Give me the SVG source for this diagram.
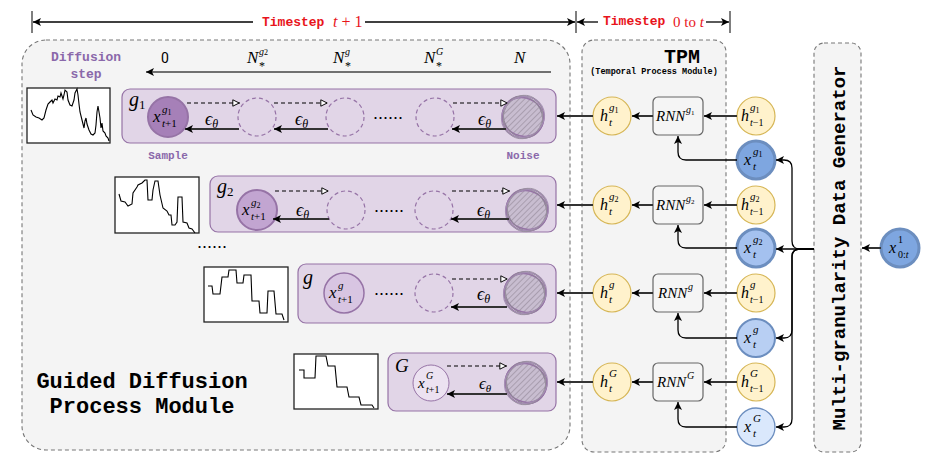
<svg xmlns="http://www.w3.org/2000/svg" width="938" height="476" viewBox="0 0 938 476">
<style>
.m{font-family:"Liberation Serif",serif;font-style:italic;fill:#000}
.u{font-family:"Liberation Serif",serif;font-style:normal}
.mono{font-family:"Liberation Mono","DejaVu Sans Mono",monospace;font-weight:bold}
.red{fill:#e8141b}
.pur{fill:#8a68aa}
.box{fill:#f4f4f4;stroke:#777;stroke-width:1.1;stroke-dasharray:4 3}
.row{fill:#e1d5e7;stroke:#9673a6;stroke-width:1.2}
.dc{fill:none;stroke:#9673a6;stroke-width:1.2;stroke-dasharray:4 3}
.yel{fill:#fff2cc;stroke:#d6b656;stroke-width:1.2}
.rnn{fill:#f5f5f5;stroke:#666;stroke-width:1.2}
.ln{fill:none;stroke:#000;stroke-width:1.3}
.sl{fill:none;stroke:#333;stroke-width:2}
.dl{fill:none;stroke:#000;stroke-width:1.1;stroke-dasharray:4 3}
.plot{fill:#fff;stroke:#222;stroke-width:1.3}
.pl{fill:none;stroke:#000;stroke-width:1.1}
</style>
<defs>
<marker id="ah" viewBox="0 0 10 10" refX="10" refY="5" markerWidth="10" markerHeight="8" markerUnits="userSpaceOnUse" orient="auto"><path d="M0,0 L10,5 L0,10 L2.5,5 Z" fill="#000"/></marker>
<marker id="ao" viewBox="0 0 10 10" refX="10" refY="5" markerWidth="10" markerHeight="8" markerUnits="userSpaceOnUse" orient="auto"><path d="M1,1 L9,5 L1,9 Z" fill="#fff" stroke="#000" stroke-width="1.2"/></marker>
<pattern id="hatch" width="4" height="4" patternUnits="userSpaceOnUse" patternTransform="rotate(45)"><rect width="4" height="4" fill="#c8bdd0"/><line x1="0" y1="0" x2="0" y2="4" stroke="#837888" stroke-width="0.9"/></pattern>
<g id="noise">
<circle r="20" fill="url(#hatch)"/>
<ellipse rx="21" ry="19" transform="rotate(25)" fill="none" stroke="#9673a6" stroke-width="1.4"/>
<ellipse rx="19" ry="21.5" transform="rotate(-30)" fill="none" stroke="#8d8494" stroke-width="1"/>
<circle r="21" fill="none" stroke="#9673a6" stroke-width="1.2"/>
<ellipse rx="20" ry="22" transform="rotate(60)" fill="none" stroke="#a48fb3" stroke-width="1"/>
<ellipse rx="22" ry="19.5" transform="rotate(-70)" fill="none" stroke="#9a90a0" stroke-width="0.9"/>
</g>
</defs>

<!-- timestep header -->
<g id="timestep">
<line x1="32" y1="11" x2="32" y2="33" stroke="#555" stroke-width="1.5"/>
<line x1="576" y1="11" x2="576" y2="33" stroke="#555" stroke-width="1.5"/>
<line x1="730" y1="11" x2="730" y2="33" stroke="#555" stroke-width="1.5"/>
<line class="ln" x1="253" y1="22" x2="33" y2="22" marker-end="url(#ah)"/>
<line class="ln" x1="365" y1="22" x2="575" y2="22" marker-end="url(#ah)"/>
<line class="ln" x1="598" y1="22" x2="577" y2="22" marker-end="url(#ah)"/>
<line class="ln" x1="706" y1="22" x2="729" y2="22" marker-end="url(#ah)"/>
<text x="262" y="26" class="mono red" font-size="13">Timestep</text>
<text x="333" y="27" class="u red" font-size="16"><tspan font-style="italic">t</tspan> + 1</text>
<text x="603" y="25" class="mono red" font-size="13">Timestep</text>
<text x="673" y="27" class="u red" font-size="15">0 to <tspan font-style="italic">t</tspan></text>
</g>

<!-- Guided Diffusion Process Module -->
<g id="gdpm">
<rect class="box" x="22" y="40" width="548" height="410" rx="24"/>
<text x="86" y="61" class="mono pur" font-size="13" text-anchor="middle">Diffusion</text>
<text x="86" y="78" class="mono pur" font-size="13" text-anchor="middle">step</text>
<text x="165" y="63" font-family="Roboto,'Liberation Sans',sans-serif" font-size="14" text-anchor="middle">0</text>
<text x="247" y="63" class="m" font-size="17">N</text><text x="259" y="55" class="m" font-size="10">g<tspan class="u" font-size="8">2</tspan></text><text x="259" y="70" class="u" font-size="12">*</text>
<text x="333" y="63" class="m" font-size="17">N</text><text x="345" y="55" class="m" font-size="10">g</text><text x="345" y="70" class="u" font-size="12">*</text>
<text x="424" y="63" class="m" font-size="17">N</text><text x="436" y="55" class="m" font-size="10">G</text><text x="436" y="70" class="u" font-size="12">*</text>
<text x="514" y="63" class="m" font-size="17">N</text>
<line x1="551" y1="72" x2="146" y2="72" stroke="#444" stroke-width="1.6" marker-end="url(#ah)"/>
<text x="142" y="388" class="mono" font-size="22" text-anchor="middle">Guided Diffusion</text>
<text x="142" y="413" class="mono" font-size="22" text-anchor="middle">Process Module</text>
<text x="212" y="248" font-family="'Liberation Sans',sans-serif" font-size="18" text-anchor="middle">......</text>
</g>

<!-- plots -->
<g id="plot-g1">
<rect class="plot" x="27" y="88" width="83" height="55"/>
<polyline class="pl" points="31,110 33,115 36,117 39,118 42,120 44,118 46,110 48,104 50,102 52,100 53,103 55,99 57,100 58,96 60,97 61,93 63,99 64,95 65,90 67,92 68,100 70,105 72,106 74,100 75,93 77,89 78,95 79,104 80,112 82,120 84,128 85,121 86,118 87,124 89,130 91,134 93,135 95,133 96,125 97,112 98,106 99,112 100,118 101,128 102,123 103,131 105,133 106,136 108,138 109,141"/>
</g>
<g id="plot-g2">
<rect class="plot" x="115" y="177" width="84" height="56"/>
<polyline class="pl" points="119,194 121,201 125,202 128,206 132,204 133,193 137,187 138,185 142,183 145,180 147,180 148,200 152,200 153,190 155,181 158,181 160,195 163,208 167,211 169,215 171,215 172,225 175,225 177,222 178,197 182,197 183,222 187,223 189,228 192,229 195,233"/>
</g>
<g id="plot-g">
<rect class="plot" x="204" y="267" width="84" height="55"/>
<polyline class="pl" points="208,286 212,286 213,294 220,294 222,277 228,277 229,270 236,270 237,283 243,283 244,275 251,275 252,301 259,301 260,313 267,313 268,291 274,291 276,314 282,314 284,320"/>
</g>
<g id="plot-G">
<rect class="plot" x="294" y="354" width="84" height="55"/>
<polyline class="pl" points="299,370 304,370 304,378 315,378 316,356 326,356 328,366 335,366 337,387 347,387 349,397 359,397 361,405 372,405 374,408"/>
</g>

<!-- row g1 -->
<g id="row-g1">
<rect class="row" x="122" y="89" width="434" height="54" rx="8"/>
<text x="129" y="106" class="m" font-size="20">g<tspan class="u" font-size="13" dy="3">1</tspan></text>
<circle cx="168" cy="117" r="20" fill="#a680b8" stroke="#9673a6" stroke-width="2"/>
<text x="153" y="122" class="m" font-size="17">x</text><text x="162" y="113" class="m" font-size="11">g<tspan class="u" font-size="8" dy="2">1</tspan></text><text x="162" y="127" class="m" font-size="11">t<tspan class="u">+1</tspan></text>
<circle class="dc" cx="257" cy="117" r="19"/>
<circle class="dc" cx="345" cy="117" r="19"/>
<circle class="dc" cx="435" cy="117" r="19"/>
<use href="#noise" x="523" y="117"/>
<text x="388" y="119" font-family="'Liberation Sans',sans-serif" font-size="18" text-anchor="middle">......</text>
<text x="205" y="125" class="m" font-size="18">ϵ<tspan font-size="12" dy="3">θ</tspan></text>
<text x="295" y="125" class="m" font-size="18">ϵ<tspan font-size="12" dy="3">θ</tspan></text>
<text x="478" y="125" class="m" font-size="18">ϵ<tspan font-size="12" dy="3">θ</tspan></text>
<text x="168" y="159" class="mono pur" font-size="11" text-anchor="middle">Sample</text>
<text x="523" y="159" class="mono pur" font-size="11" text-anchor="middle">Noise</text>
</g>

<!-- row g2 -->
<g id="row-g2">
<rect class="row" x="210" y="176" width="346" height="56" rx="8"/>
<text x="217" y="193" class="m" font-size="20">g<tspan class="u" font-size="13" dy="3">2</tspan></text>
<circle cx="257" cy="210" r="20" fill="#c2a5d1" stroke="#9673a6" stroke-width="2"/>
<text x="242" y="215" class="m" font-size="17">x</text><text x="251" y="206" class="m" font-size="11">g<tspan class="u" font-size="8" dy="2">2</tspan></text><text x="251" y="220" class="m" font-size="11">t<tspan class="u">+1</tspan></text>
<circle class="dc" cx="346" cy="210" r="19"/>
<circle class="dc" cx="434" cy="210" r="19"/>
<use href="#noise" x="527" y="210"/>
<text x="389" y="212" font-family="'Liberation Sans',sans-serif" font-size="18" text-anchor="middle">......</text>
<text x="296" y="216" class="m" font-size="18">ϵ<tspan font-size="12" dy="3">θ</tspan></text>
<text x="477" y="216" class="m" font-size="18">ϵ<tspan font-size="12" dy="3">θ</tspan></text>
</g>

<!-- row g -->
<g id="row-g">
<rect class="row" x="298" y="264" width="258" height="59" rx="8"/>
<text x="303" y="284" class="m" font-size="20">g</text>
<circle cx="344" cy="293" r="20" fill="#d8c5e2" stroke="#9673a6" stroke-width="1.5"/>
<text x="329" y="298" class="m" font-size="17">x</text><text x="338" y="289" class="m" font-size="11">g</text><text x="338" y="303" class="m" font-size="11">t<tspan class="u">+1</tspan></text>
<circle class="dc" cx="434" cy="293" r="19"/>
<use href="#noise" x="525" y="293"/>
<text x="389" y="295" font-family="'Liberation Sans',sans-serif" font-size="18" text-anchor="middle">......</text>
<text x="477" y="300" class="m" font-size="18">ϵ<tspan font-size="12" dy="3">θ</tspan></text>
</g>

<!-- row G -->
<g id="row-G">
<rect class="row" x="388" y="353" width="168" height="58" rx="8"/>
<text x="395" y="372" class="m" font-size="19">G</text>
<circle cx="431" cy="383" r="18" fill="#ece2f1" stroke="#9673a6" stroke-width="1"/>
<text x="418" y="388" class="m" font-size="15">x</text><text x="426" y="379" class="m" font-size="10">G</text><text x="426" y="393" class="m" font-size="10">t<tspan class="u">+1</tspan></text>
<use href="#noise" x="526" y="383"/>
<text x="479" y="389" class="m" font-size="17">ϵ<tspan font-size="11" dy="3">θ</tspan></text>
</g>

<!-- TPM -->
<g id="tpm">
<rect class="box" x="582" y="40" width="144" height="412" rx="12"/>
<text x="682" y="63" class="mono" font-size="20" text-anchor="middle">TPM</text>
<text x="654" y="74" class="mono" font-size="8.5" text-anchor="middle">(Temporal Process Module)</text>
</g>

<g id="h-g1"><circle class="yel" cx="612" cy="116" r="19"/><text x="600" y="121" class="m" font-size="16">h</text><text x="609" y="111" class="m" font-size="11">g<tspan class="u" font-size="8" dy="2">1</tspan></text><text x="609" y="126" class="m" font-size="11">t</text></g>
<g id="h-g2"><circle class="yel" cx="612" cy="205" r="19"/><text x="600" y="210" class="m" font-size="16">h</text><text x="609" y="200" class="m" font-size="11">g<tspan class="u" font-size="8" dy="2">2</tspan></text><text x="609" y="215" class="m" font-size="11">t</text></g>
<g id="h-g"><circle class="yel" cx="612" cy="293" r="19"/><text x="600" y="298" class="m" font-size="16">h</text><text x="609" y="288" class="m" font-size="11">g</text><text x="609" y="303" class="m" font-size="11">t</text></g>
<g id="h-G"><circle class="yel" cx="612" cy="382" r="19"/><text x="600" y="387" class="m" font-size="16">h</text><text x="609" y="377" class="m" font-size="11">G</text><text x="609" y="392" class="m" font-size="11">t</text></g>

<g id="rnn-g1"><rect class="rnn" x="653" y="97" width="50" height="38" rx="5"/><text x="656" y="121" class="m" font-size="15" fill="#333">RNN</text><text x="686" y="113" class="m" font-size="10" fill="#333">g<tspan class="u" font-size="7" dy="2">1</tspan></text></g>
<g id="rnn-g2"><rect class="rnn" x="653" y="186" width="50" height="38" rx="5"/><text x="656" y="210" class="m" font-size="15" fill="#333">RNN</text><text x="686" y="202" class="m" font-size="10" fill="#333">g<tspan class="u" font-size="7" dy="2">2</tspan></text></g>
<g id="rnn-g"><rect class="rnn" x="653" y="274" width="50" height="38" rx="5"/><text x="658" y="298" class="m" font-size="15" fill="#333">RNN</text><text x="688" y="290" class="m" font-size="10" fill="#333">g</text></g>
<g id="rnn-G"><rect class="rnn" x="653" y="363" width="50" height="38" rx="5"/><text x="657" y="387" class="m" font-size="15" fill="#333">RNN</text><text x="687" y="379" class="m" font-size="10" fill="#333">G</text></g>

<g id="hp-g1"><circle class="yel" cx="756" cy="116" r="19"/><text x="741" y="121" class="m" font-size="16">h</text><text x="750" y="111" class="m" font-size="11">g<tspan class="u" font-size="8" dy="2">1</tspan></text><text x="750" y="126" class="m" font-size="10">t<tspan class="u">−1</tspan></text></g>
<g id="hp-g2"><circle class="yel" cx="756" cy="205" r="19"/><text x="741" y="210" class="m" font-size="16">h</text><text x="750" y="200" class="m" font-size="11">g<tspan class="u" font-size="8" dy="2">2</tspan></text><text x="750" y="215" class="m" font-size="10">t<tspan class="u">−1</tspan></text></g>
<g id="hp-g"><circle class="yel" cx="756" cy="293" r="19"/><text x="741" y="298" class="m" font-size="16">h</text><text x="750" y="288" class="m" font-size="11">g</text><text x="750" y="303" class="m" font-size="10">t<tspan class="u">−1</tspan></text></g>
<g id="hp-G"><circle class="yel" cx="756" cy="382" r="19"/><text x="741" y="387" class="m" font-size="16">h</text><text x="750" y="377" class="m" font-size="11">G</text><text x="750" y="392" class="m" font-size="10">t<tspan class="u">−1</tspan></text></g>

<g id="x-g1"><circle cx="756" cy="160" r="19" fill="#7ea6e0" stroke="#6c8ebf" stroke-width="3"/><text x="744" y="165" class="m" font-size="16">x</text><text x="753" y="155" class="m" font-size="11">g<tspan class="u" font-size="8" dy="2">1</tspan></text><text x="753" y="170" class="m" font-size="11">t</text></g>
<g id="x-g2"><circle cx="756" cy="248" r="19" fill="#a4c1ef" stroke="#6c8ebf" stroke-width="3"/><text x="744" y="253" class="m" font-size="16">x</text><text x="753" y="243" class="m" font-size="11">g<tspan class="u" font-size="8" dy="2">2</tspan></text><text x="753" y="258" class="m" font-size="11">t</text></g>
<g id="x-g"><circle cx="756" cy="338" r="19" fill="#b8cff3" stroke="#6c8ebf" stroke-width="2"/><text x="744" y="343" class="m" font-size="16">x</text><text x="753" y="333" class="m" font-size="11">g</text><text x="753" y="348" class="m" font-size="11">t</text></g>
<g id="x-G"><circle cx="756" cy="427" r="19" fill="#dae8fc" stroke="#6c8ebf" stroke-width="1.3"/><text x="744" y="432" class="m" font-size="16">x</text><text x="753" y="422" class="m" font-size="11">G</text><text x="753" y="437" class="m" font-size="11">t</text></g>

<!-- MGDG -->
<g id="mgdg">
<rect class="box" x="814" y="43" width="47" height="409" rx="10"/>
<text transform="translate(845,248) rotate(-90)" class="mono" font-size="19" text-anchor="middle">Multi-granularity Data Generator</text>
</g>
<g id="x0t"><circle cx="900" cy="248" r="19" fill="#7ea6e0" stroke="#6c8ebf" stroke-width="3"/><text x="889" y="253" class="m" font-size="16">x</text><text x="898" y="243" class="u" font-size="10">1</text><text x="898" y="258" class="u" font-size="10">0:<tspan class="m">t</tspan></text></g>

<!-- connectors -->
<g id="connectors">
<line class="dl" x1="187" y1="103" x2="240" y2="103" marker-end="url(#ao)"/>
<line class="dl" x1="274" y1="103" x2="328" y2="103" marker-end="url(#ao)"/>
<line class="dl" x1="453" y1="103" x2="508" y2="103" marker-end="url(#ao)"/>
<line class="sl" x1="239" y1="129" x2="185" y2="129" marker-end="url(#ah)"/>
<line class="sl" x1="328" y1="129" x2="274" y2="129" marker-end="url(#ah)"/>
<line class="sl" x1="506" y1="129" x2="452" y2="129" marker-end="url(#ah)"/>

<line class="dl" x1="275" y1="191" x2="329" y2="191" marker-end="url(#ao)"/>
<line class="dl" x1="452" y1="191" x2="510" y2="191" marker-end="url(#ao)"/>
<line class="sl" x1="329" y1="219" x2="273" y2="219" marker-end="url(#ah)"/>
<line class="sl" x1="509" y1="219" x2="451" y2="219" marker-end="url(#ah)"/>

<line class="dl" x1="452" y1="279" x2="508" y2="279" marker-end="url(#ao)"/>
<line class="sl" x1="507" y1="307" x2="451" y2="307" marker-end="url(#ah)"/>

<line class="dl" x1="447" y1="366" x2="507" y2="366" marker-end="url(#ao)"/>
<line class="sl" x1="507" y1="394" x2="447" y2="394" marker-end="url(#ah)"/>

<line class="sl" x1="593" y1="116" x2="557" y2="116" marker-end="url(#ah)"/>
<line class="sl" x1="593" y1="205" x2="557" y2="205" marker-end="url(#ah)"/>
<line class="sl" x1="593" y1="293" x2="557" y2="293" marker-end="url(#ah)"/>
<line class="sl" x1="593" y1="382" x2="557" y2="382" marker-end="url(#ah)"/>

<line class="sl" x1="737" y1="116" x2="704" y2="116" marker-end="url(#ah)"/>
<line class="sl" x1="737" y1="205" x2="704" y2="205" marker-end="url(#ah)"/>
<line class="sl" x1="737" y1="293" x2="704" y2="293" marker-end="url(#ah)"/>
<line class="sl" x1="737" y1="382" x2="704" y2="382" marker-end="url(#ah)"/>

<line class="sl" x1="653" y1="116" x2="632" y2="116" marker-end="url(#ah)"/>
<line class="sl" x1="653" y1="205" x2="632" y2="205" marker-end="url(#ah)"/>
<line class="sl" x1="653" y1="293" x2="632" y2="293" marker-end="url(#ah)"/>
<line class="sl" x1="653" y1="382" x2="632" y2="382" marker-end="url(#ah)"/>

<path class="ln" d="M737,160 H686 Q678,160 678,152 V136" marker-end="url(#ah)"/>
<path class="ln" d="M737,248 H686 Q678,248 678,240 V225" marker-end="url(#ah)"/>
<path class="ln" d="M737,338 H686 Q678,338 678,330 V313" marker-end="url(#ah)"/>
<path class="ln" d="M737,427 H686 Q678,427 678,419 V402" marker-end="url(#ah)"/>

<path class="ln" d="M814,249 H800 Q792,249 792,241 V168 Q792,160 784,160 H776" marker-end="url(#ah)"/>
<path class="ln" d="M814,249 H776" marker-end="url(#ah)"/>
<path class="ln" d="M814,249 H800 Q792,249 792,257 V330 Q792,338 784,338 H776" marker-end="url(#ah)"/>
<path class="ln" d="M814,249 H800 Q792,249 792,257 V419 Q792,427 784,427 H776" marker-end="url(#ah)"/>
<line class="sl" x1="881" y1="248" x2="862" y2="248" marker-end="url(#ah)"/>
</g>
</svg>
